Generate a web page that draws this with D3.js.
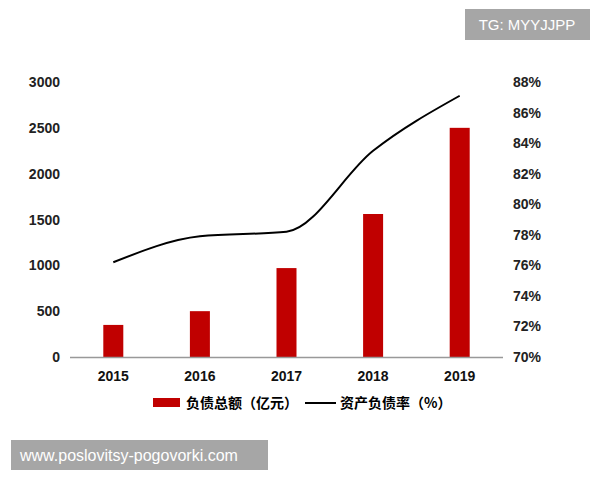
<!DOCTYPE html>
<html><head><meta charset="utf-8">
<script src="https://cdn.jsdelivr.net/npm/d3@7"></script>
<style>body{margin:0;background:#fff}</style>
</head><body>
<script>
var years = ["2015", "2016", "2017", "2018", "2019"];
var debt = [350, 500, 970, 1560, 2500];
var ratio = [76.2, 77.9, 78.2, 83.5, 87.1];
var leftTicks = [0, 500, 1000, 1500, 2000, 2500, 3000];
var rightTicks = [70, 72, 74, 76, 78, 80, 82, 84, 86, 88];

var width = 600, height = 480;
var svg = d3.select("body").append("svg")
  .attr("width", width).attr("height", height)
  .style("font-family", "'Liberation Sans', Arial, sans-serif");

var x = d3.scaleBand().domain(years).range([70, 503]);
var yL = d3.scaleLinear().domain([0, 3000]).range([357, 82]);
var yR = d3.scaleLinear().domain([70, 88]).range([357, 82]);

// left tick labels
svg.selectAll("text.l").data(leftTicks).enter().append("text")
  .attr("x", 60).attr("y", function (d) { return yL(d) + 5; })
  .attr("text-anchor", "end").attr("font-size", 14).attr("font-weight", "bold").attr("fill", "#222")
  .text(function (d) { return d; });

// right tick labels
svg.selectAll("text.r").data(rightTicks).enter().append("text")
  .attr("x", 513).attr("y", function (d) { return yR(d) + 5; })
  .attr("font-size", 14).attr("font-weight", "bold").attr("fill", "#222")
  .text(function (d) { return d + "%"; });

// bars
svg.selectAll("rect.bar").data(debt).enter().append("rect")
  .attr("x", function (d, i) { return x(years[i]) + x.bandwidth() / 2 - 10; })
  .attr("y", function (d) { return yL(d); })
  .attr("width", 20)
  .attr("height", function (d) { return yL(0) - yL(d); })
  .attr("fill", "#c00000");

// axis line
svg.append("line").attr("x1", 70).attr("x2", 503).attr("y1", 357.5).attr("y2", 357.5)
  .attr("stroke", "#999").attr("stroke-width", 1.5);

// year labels
svg.selectAll("text.x").data(years).enter().append("text")
  .attr("x", function (d) { return x(d) + x.bandwidth() / 2; })
  .attr("y", 381).attr("text-anchor", "middle")
  .attr("font-size", 14).attr("font-weight", "bold").attr("fill", "#111")
  .text(function (d) { return d; });

// ratio line
var line = d3.line()
  .x(function (d, i) { return x(years[i]) + x.bandwidth() / 2; })
  .y(function (d) { return yR(d); })
  .curve(d3.curveMonotoneX);
svg.append("path").datum(ratio).attr("d", line)
  .attr("fill", "none").attr("stroke", "#000").attr("stroke-width", 2);

// legend
svg.append("rect").attr("x", 153).attr("y", 398).attr("width", 27).attr("height", 9).attr("fill", "#c00000");
svg.append("text").attr("x", 186).attr("y", 408).attr("font-size", 14).attr("font-weight", "bold")
  .style("font-family", "'Noto Sans CJK SC', sans-serif").text("负债总额（亿元）");
svg.append("line").attr("x1", 305).attr("x2", 336).attr("y1", 403).attr("y2", 403)
  .attr("stroke", "#000").attr("stroke-width", 2);
svg.append("text").attr("x", 340).attr("y", 408).attr("font-size", 14).attr("font-weight", "bold")
  .style("font-family", "'Noto Sans CJK SC', sans-serif").text("资产负债率（%）");

// watermarks
svg.append("rect").attr("x", 465).attr("y", 9).attr("width", 125).attr("height", 31).attr("fill", "#a6a6a6");
svg.append("text").attr("x", 527).attr("y", 30).attr("text-anchor", "middle")
  .attr("font-size", 15).attr("fill", "#fff").text("TG: MYYJJPP");
svg.append("rect").attr("x", 11).attr("y", 440).attr("width", 257).attr("height", 30).attr("fill", "#a6a6a6");
svg.append("text").attr("x", 20).attr("y", 461)
  .attr("font-size", 16).attr("fill", "#fff").text("www.poslovitsy-pogovorki.com");
</script>
</body></html>
